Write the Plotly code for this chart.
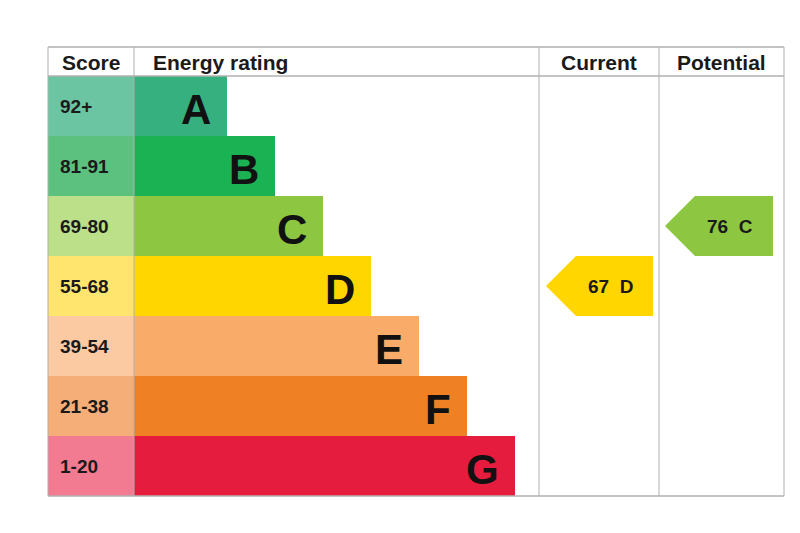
import plotly.graph_objects as go

# rating bands
BANDS = ['A', 'B', 'C', 'D', 'E', 'F', 'G']
SCORES = ['92+', '81-91', '69-80', '55-68', '39-54', '21-38', '1-20']
BAR_END = [219, 267, 315, 363, 411, 459, 507]
BAR_COLORS = ['#36b07f', '#1ab253', '#8dc641', '#ffd600', '#f9ab69', '#ef8024', '#e51c3d']
SCORE_COLORS = ['#6cc5a2', '#5cc17e', '#bcdf8a', '#ffe56e', '#fbcaa2', '#f5ae78', '#f27b92']

CURRENT = (67, 'D')
POTENTIAL = (76, 'C')

FONT = 'Liberation Sans, Arial, sans-serif'
ROW_TOP = 68
ROW_H = 60
BAR_X0 = 126

fig = go.Figure()
shapes = []
annotations = []

for i, (band, score) in enumerate(zip(BANDS, SCORES)):
	y0 = ROW_TOP + i * ROW_H
	y1 = y0 + ROW_H
	shapes.append(dict(type='rect', x0=40, x1=BAR_X0, y0=y0, y1=y1,
		fillcolor=SCORE_COLORS[i], line_width=0, layer='below'))
	shapes.append(dict(type='rect', x0=BAR_X0, x1=BAR_END[i], y0=y0, y1=y1,
		fillcolor=BAR_COLORS[i], line_width=0, layer='below'))
	annotations.append(dict(x=50, y=(y0 + y1) / 2, text=f'<b>{score}</b>',
		xanchor='left', showarrow=False, font=dict(size=19, color='#1a1a1a', family=FONT)))
	annotations.append(dict(x=BAR_END[i] - 14, y=(y0 + y1) / 2 + 3, text=f'<b>{band}</b>',
		xanchor='right', showarrow=False, font=dict(size=42, color='#111111', family=FONT)))


def arrow(value, band, x_tip, x_end):
	i = BANDS.index(band)
	y0 = ROW_TOP + i * ROW_H
	y1 = y0 + ROW_H
	ym = (y0 + y1) / 2
	xb = x_tip + 30
	shapes.append(dict(type='path',
		path=f'M {x_tip},{ym} L {xb},{y0} L {x_end},{y0} L {x_end},{y1} L {xb},{y1} Z',
		fillcolor=BAR_COLORS[i], line_width=0))
	annotations.append(dict(x=(xb + x_end) / 2 - 4, y=ym, text=f'<b>{value}  {band}</b>',
		showarrow=False, font=dict(size=19, color='#1a1a1a', family=FONT)))


arrow(*CURRENT, 538, 645)
arrow(*POTENTIAL, 657, 765)

# grid lines
grey = '#b0b0b0'
for x in [40, 126, 531, 651, 776]:
	shapes.append(dict(type='line', x0=x, x1=x, y0=39, y1=488, line=dict(color=grey, width=1)))
for y in [39, 68, 488]:
	shapes.append(dict(type='line', x0=40, x1=776, y0=y, y1=y, line=dict(color=grey, width=1.5)))

for x, text in [(83, 'Score'), (143, 'Energy rating'), (591, 'Current'), (713, 'Potential')]:
	annotations.append(dict(x=x, y=54, text=f'<b>{text}</b>',
		xanchor='left' if text == 'Energy rating' else 'center', showarrow=False,
		font=dict(size=21, color='#1a1a1a', family=FONT)))

fig.add_trace(go.Scatter(x=[0, 800], y=[0, 533], mode='markers', marker_opacity=0, hoverinfo='skip'))
fig.update_layout(
	width=800, height=533, margin=dict(l=0, r=0, t=0, b=0),
	plot_bgcolor='white', paper_bgcolor='white', showlegend=False,
	shapes=shapes, annotations=annotations,
	xaxis=dict(range=[0, 800], visible=False, fixedrange=True),
	yaxis=dict(range=[533, 0], visible=False, fixedrange=True),
)

fig.write_html('out.html')
